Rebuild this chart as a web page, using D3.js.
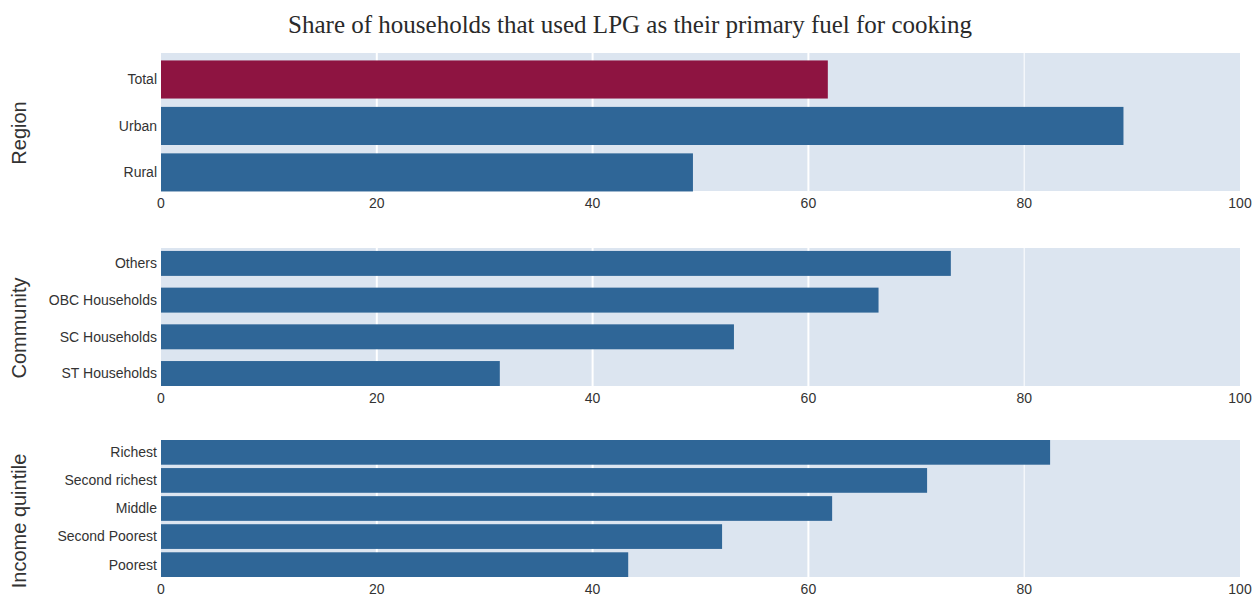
<!DOCTYPE html>
<html><head><meta charset="utf-8">
<script src="https://cdn.jsdelivr.net/npm/d3@7"></script>
<style>body{margin:0;background:#fff}svg{display:block}</style>
</head><body><svg id="c" width="1253" height="597"></svg>
<script>
const regionCats = ["Total","Urban","Rural"];
const regionVals = [61.8, 89.2, 49.3];
const communityCats = ["Others","OBC Households","SC Households","ST Households"];
const communityVals = [73.2, 66.5, 53.1, 31.4];
const incomeCats = ["Richest","Second richest","Middle","Second Poorest","Poorest"];
const incomeVals = [82.4, 71.0, 62.2, 52.0, 43.3];
const xTicks = [0,20,40,60,80,100];
const title = "Share of households that used LPG as their primary fuel for cooking";

const svg = d3.select("#c");
const x = d3.scaleLinear().domain([0,100]).range([161,1240]);

const panels = [
  {name:"Region", cats:regionCats, vals:regionVals, top:53, bottom:191, lo:-0.40, hi:2.57, half:0.41, tickY:203, titleY:133},
  {name:"Community", cats:communityCats, vals:communityVals, top:248, bottom:386, lo:-0.34, hi:3.42, half:0.34, tickY:398, titleY:328},
  {name:"Income quintile", cats:incomeCats, vals:incomeVals, top:440, bottom:577, lo:-0.44, hi:4.44, half:0.44, tickY:589, titleY:521}
];

svg.append("text").attr("x",630).attr("y",33).attr("text-anchor","middle")
  .attr("font-family","'Liberation Serif', serif").attr("font-size",25).attr("fill","#2a2a2a").text(title);

panels.forEach(p=>{
  const n = p.cats.length;
  const y = d3.scaleLinear().domain([p.lo,p.hi]).range([p.bottom,p.top]);
  const g = svg.append("g");
  g.append("rect").attr("x",x(0)).attr("y",p.top).attr("width",x(100)-x(0)).attr("height",p.bottom-p.top).attr("fill","#dce5f0");
  g.selectAll("line.grid").data(xTicks.filter(t=>t>0&&t<100)).join("line")
    .attr("x1",d=>x(d)).attr("x2",d=>x(d)).attr("y1",p.top).attr("y2",p.bottom)
    .attr("stroke","#fff").attr("stroke-width",d=>d===80?1:2);
  const data = p.cats.map((c,i)=>({c, v:p.vals[i], idx:n-1-i}));
  g.selectAll("rect.bar").data(data).join("rect")
    .attr("x",x(0)).attr("y",d=>y(d.idx+p.half)).attr("width",d=>x(d.v)-x(0))
    .attr("height",d=>y(d.idx-p.half)-y(d.idx+p.half))
    .attr("fill",d=>d.c==="Total"?"#8e1441":"#2f6697");
  g.selectAll("text.cat").data(data).join("text")
    .attr("x",157).attr("y",d=>y(d.idx)).attr("dy","0.35em").attr("text-anchor","end")
    .attr("font-family","'Liberation Sans', Arial, sans-serif").attr("font-size",14).attr("fill","#333").text(d=>d.c);
  g.selectAll("text.tick").data(xTicks).join("text")
    .attr("x",d=>x(d)).attr("y",p.tickY).attr("dy","0.35em").attr("text-anchor","middle")
    .attr("font-family","'Liberation Sans', Arial, sans-serif").attr("font-size",14).attr("fill","#333").text(d=>d);
  g.append("text").attr("transform",`translate(26,${p.titleY}) rotate(-90)`).attr("text-anchor","middle")
    .attr("font-family","'Liberation Sans', Arial, sans-serif").attr("font-size",20).attr("fill","#333").text(p.name);
});
</script></body></html>
